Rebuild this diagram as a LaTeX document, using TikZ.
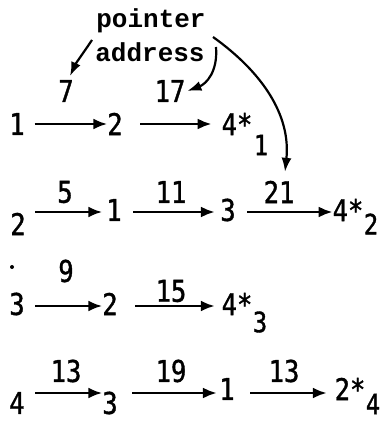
\documentclass[tikz,border=0pt]{standalone}
\usepackage{fontspec}
\usetikzlibrary{arrows.meta}
\newfontfamily\digf[FakeStretch=0.85,FakeBold=1.2]{DejaVu Sans Mono}
\newfontfamily\labf{Liberation Mono}
\begin{document}
\begin{tikzpicture}[x=0.5pt,y=-0.5pt,
  num/.style={inner sep=0pt,outer sep=0pt,font=\digf\fontsize{15}{15}\selectfont},
  subn/.style={inner sep=0pt,outer sep=0pt,font=\digf\fontsize{14}{14}\selectfont},
  lab/.style={inner sep=0pt,outer sep=0pt,font=\labf\bfseries\fontsize{13}{13}\selectfont},
  arr/.style={line width=1.4pt,-{Latex[length=7pt,width=5.5pt]}},
  curv/.style={line width=1.1pt,-{Latex[length=7pt,width=5pt]}}]
\useasboundingbox (0,0) rectangle (386,421);

% label
\node[lab] (ptr) at (151,21) {pointer};
\node[lab] (addr) at (150,52) {address};

% row 1
\node[num] (a1) at (17,124) {1};
\node[num] (a2) at (115,124) {2};
\node[num] (a3) at (237,124) {4*};
\node[subn] (s1) at (261,145) {1};
\node[num] (l7) at (66,91) {7};
\node[num] (l17) at (170,91) {17};
\draw[arr] ([xshift=5pt]a1.east) -- (a2.west);
\draw[arr] ([xshift=8.7pt]a2.east) -- ([xshift=-5pt]a3.west);

% row 2
\node[num] (b1) at (18,224) {2};
\node[num] (b2) at (114,210) {1};
\node[num] (b3) at (228,210) {3};
\node[num] (b4) at (348,210) {4*};
\node[subn] (s2) at (371,224) {2};
\node[num] (l5) at (65,192) {5};
\node[num] (l11) at (171,192) {11};
\node[num] (l21) at (279,192) {21};
\draw[arr] ([xshift=4.7pt,yshift=-1pt]b1.east |- b2.west) -- ([xshift=-2pt,yshift=-1pt]b2.west);
\draw[arr] ([xshift=5.7pt,yshift=-1pt]b2.east) -- ([xshift=-2.7pt,yshift=-1pt]b3.west);
\draw[arr] ([xshift=5.7pt,yshift=-1pt]b3.east) -- ([yshift=-1pt]b4.west);

% stray dot
\fill (12,267) circle (1pt);

% row 3
\node[num] (c1) at (17,304) {3};
\node[num] (c2) at (110,304) {2};
\node[num] (c3) at (237,304) {4*};
\node[subn] (s3) at (260,322) {3};
\node[num] (l9) at (66,271) {9};
\node[num] (l15) at (171,291) {15};
\draw[arr] ([xshift=5.2pt,yshift=-1pt]c1.east) -- ([yshift=-1pt]c2.west);
\draw[arr] ([xshift=8.7pt,yshift=-1pt]c2.east) -- ([xshift=-3.4pt,yshift=-1pt]c3.west);

% row 4
\node[num] (d1) at (17,403) {4};
\node[num] (d2) at (110,403) {3};
\node[num] (d3) at (227,389) {1};
\node[num] (d4) at (350,389) {2*};
\node[subn] (s4) at (373,404) {4};
\node[num] (l13a) at (66,371) {13};
\node[num] (l19) at (171,371) {19};
\node[num] (l13b) at (284,371) {13};
\draw[arr] ([xshift=5.2pt,yshift=-2pt]d1.east |- d3.west) -- ([yshift=-2pt]d2.west |- d3.west);
\draw[arr] ([xshift=7.2pt,yshift=-2pt]d2.east |- d3.west) -- ([xshift=-1.2pt,yshift=-2pt]d3.west);
\draw[arr] ([xshift=7.7pt,yshift=-2pt]d3.east) -- ([xshift=-3.9pt,yshift=-2pt]d4.west);

% pointer arrows
\coordinate (p1s) at (92,40);
\coordinate (p2s) at (216,47);
\coordinate (p3s) at (213,37);
\draw[curv] (p1s) .. controls (84,52) and (76,63) .. ([xshift=2pt,yshift=2pt]l7.north);
\draw[curv] (p2s) .. controls (218,72) and (206,84) .. ([xshift=1pt]l17.east);
\draw[curv] (p3s) .. controls (262,72) and (291,115) .. ([xshift=3pt,yshift=4.5pt]l21.north);
\end{tikzpicture}
\end{document}
